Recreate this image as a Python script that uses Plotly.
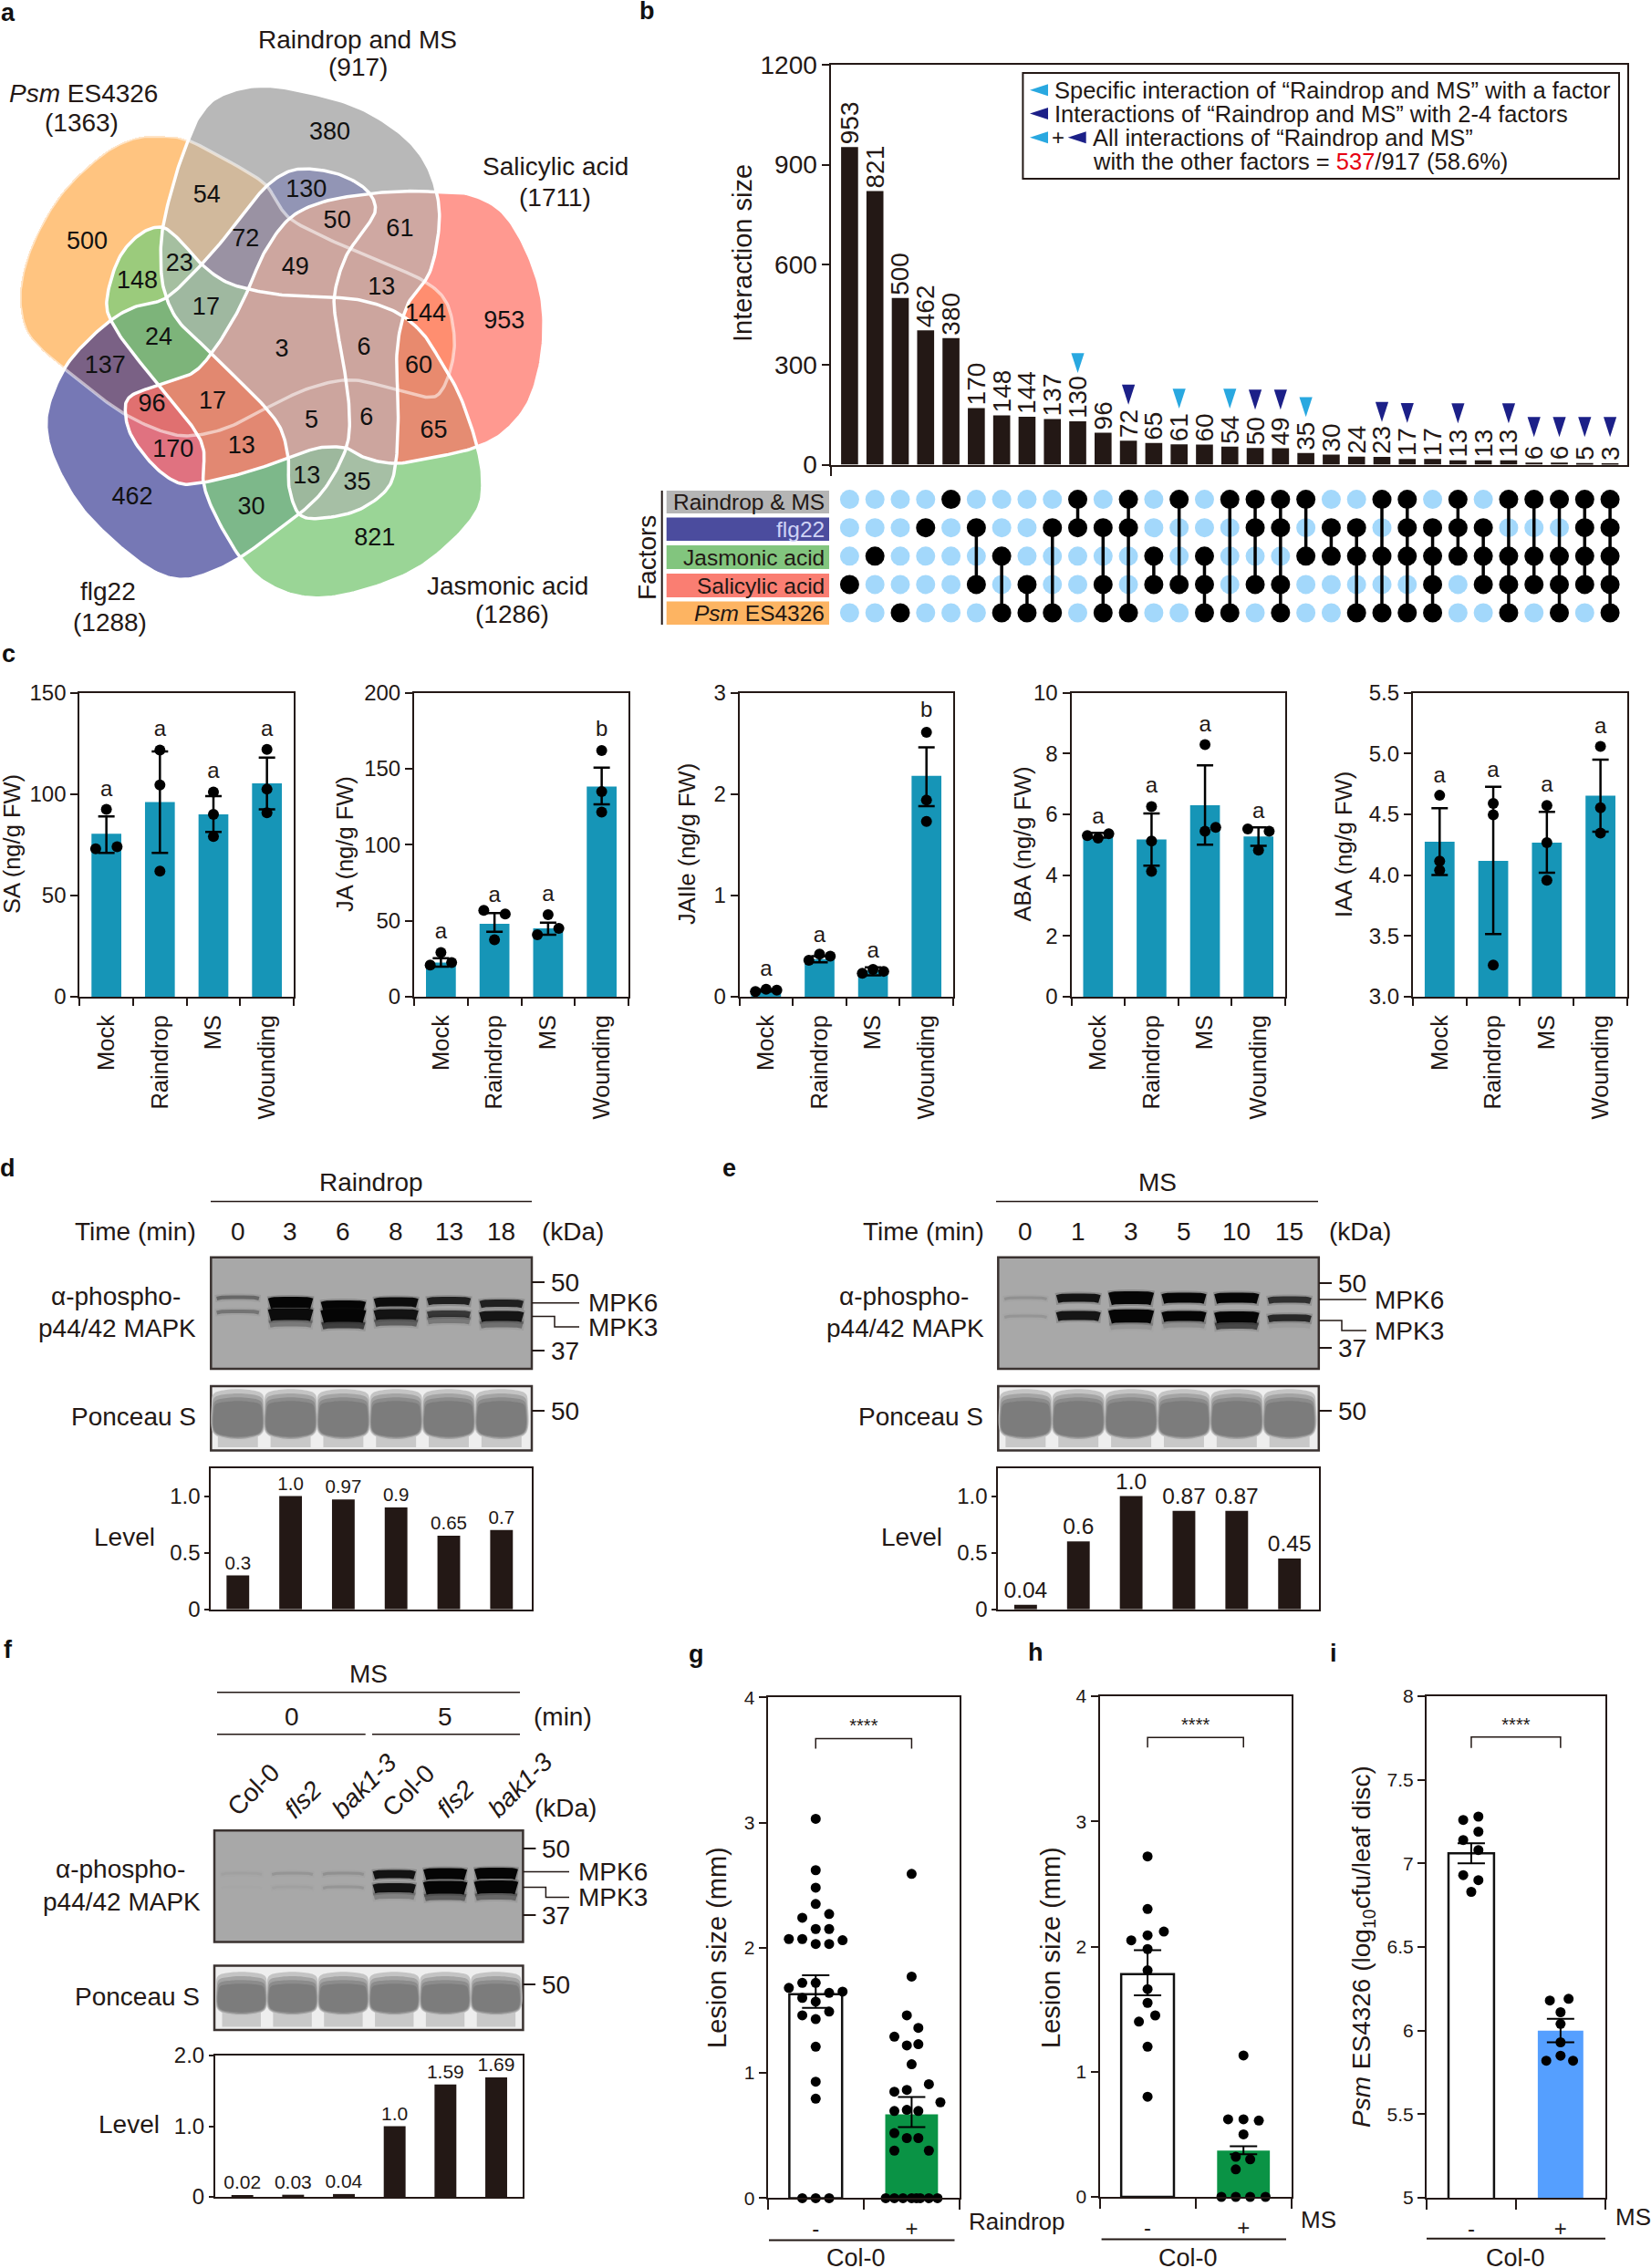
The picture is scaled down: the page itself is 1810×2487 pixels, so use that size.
import numpy as np
import plotly.graph_objects as go

FONT = "Liberation Sans"
INK = "#231815"

# ---------- panel a ----------
venn_orange = [(462,340),(400,330),(330,335),(250,375),(150,470),(80,590),(50,700),(60,790),(100,845),(158,893),(230,950),(310,1005),(400,1045),(470,1055),(560,1035),(660,985),(760,940),(860,920),(960,940),(1050,962),(1085,945),(1110,880),(1115,810),(1095,730),(1040,680),(950,640),(830,590),(720,535),(680,490),(650,445),(570,395)]
venn_gray = [(462,340),(490,280),(540,232),(640,208),(760,225),(880,260),(980,320),(1040,385),(1072,465),(1078,550),(1055,660),(1000,740),(975,850),(978,1000),(972,1120),(950,1185),(880,1235),(790,1255),(735,1245),(710,1180),(708,1110),(690,1040),(650,985),(580,915),(520,855),(440,780),(405,710),(395,640),(400,550),(430,430)]
venn_blue = [(158,893),(120,980),(115,1050),(140,1130),(200,1230),(290,1320),(380,1385),(450,1403),(520,1385),(590,1350),(660,1300),(735,1245),(800,1180),(850,1085),(858,1000),(845,890),(825,780),(822,710),(850,620),(900,550),(922,505),(900,460),(840,425),(770,410),(710,415),(650,455),(590,530),(500,635),(410,720),(340,740),(280,770),(210,830)]
venn_red = [(1072,465),(1150,470),(1230,510),(1290,600),(1330,720),(1332,850),(1300,970),(1240,1045),(1172,1082),(1080,1105),(975,1122),(900,1110),(850,1085),(780,1085),(708,1110),(600,1145),(500,1168),(440,1170),(380,1130),(325,1060),(308,1000),(320,960),(390,932),(470,905),(520,855),(575,770),(610,700),(650,610),(710,530),(790,490),(900,470),(1000,463)]
venn_green = [(590,1350),(650,1410),(740,1445),(850,1440),(1000,1390),(1100,1320),(1170,1240),(1185,1170),(1172,1082),(1130,960),(1085,880),(1040,810),(980,760),(900,730),(820,720),(700,715),(610,700),(550,680),(495,640),(440,580),(395,550),(340,570),(290,630),(262,730),(280,790),(330,860),(390,932),(470,1030),(500,1090),(500,1170),(530,1250)]
venn_cell_colors = {
    "": "#ffffff", "O": "#ffc480", "G": "#b8b8b8", "B": "#7678b5", "R": "#ff9990", "J": "#9ad596",
    "OG": "#d1b99c", "GB": "#9295b5", "OGB": "#9a92a3", "GR": "#cfa8a2", "OGR": "#cda69f", "GBR": "#cda69f", "OGBR": "#cda69f",
    "GRJ": "#cca59e", "OGRJ": "#cca59e", "GBRJ": "#cca59e", "OGBRJ": "#cca59e",
    "OJ": "#9bcb7c", "OGJ": "#a5bfa0", "OGBJ": "#9fb8a0", "OBJ": "#7db47a", "OB": "#7a6185",
    "OBR": "#e07070", "BR": "#e07280", "OBRJ": "#e28870", "BRJ": "#e28872",
    "GBJ": "#9db89d", "GJ": "#a6bfa5", "BJ": "#7db88a", "RJ": "#e58c72", "ORJ": "#e88a6e", "OR": "#ff8e70",
}
venn_counts = ["380","54","130","500","72","50","61","953","148","23","49","13","17","144","24","3","6","60","137","96","17","5","6","65","170","13","13","35","30","462","821"]
venn_count_x = [810,508,752,214,603,828,982,1238,337,441,725,937,506,1045,390,692,894,1028,258,373,522,765,900,1065,425,593,753,877,617,325,920]
venn_count_y = [322,476,462,588,582,538,558,780,683,642,650,698,748,762,820,848,845,888,888,982,975,1020,1015,1045,1092,1082,1155,1172,1230,1207,1306]

# ---------- panel b ----------
upset_labels = [953,821,500,462,380,170,148,144,137,130,96,72,65,61,60,54,50,49,35,30,24,23,17,17,13,13,13,6,6,5,3]
upset_heights = [953,821,500,403,380,170,148,144,137,130,96,72,65,61,60,54,50,49,35,30,24,23,17,17,13,13,13,6,6,5,3]
upset_members = [[3],[2],[4],[1],[0],[1,3],[2,4],[3,4],[1,4],[0,1],[1,3,4],[0,1,4],[2,3],[0,3],[2,3,4],[0,4],[0,1,3],[0,1,3,4],[0,2],[1,2],[1,2,4],[0,2,4],[0,1,2,4],[1,2,3,4],[0,1,2],[1,2,3],[0,2,3,4],[0,2,3],[0,2,3,4],[0,1,2,3],[0,1,2,3,4]]
flag_light_x = [9,13,15,18]
flag_light_y = [275,168,168,143]
flag_navy_x = [11,16,17,21,22,24,26,27,28,29,30]
flag_navy_y = [180,165,165,128,125,124,124,83,83,83,83]
factor_names = ["Raindrop & MS","flg22","Jasmonic acid","Salicylic acid","<i>Psm</i> ES4326"]
factor_colors = ["#b5b5b5","#4b4c9e","#82c57e","#fa7e72","#fdb462"]
factor_text = [INK,"#cfd3f5",INK,INK,INK]

# ---------- panel c ----------
treatments = ["Mock","Raindrop","MS","Wounding"]
hormone_titles = ["SA (ng/g FW)","JA (ng/g FW)","JAIle (ng/g FW)","ABA (ng/g FW)","IAA (ng/g FW)"]
hormone_mean = [[80.4,96,90,105.3],[22.5,48,45,138.3],[0.06,0.37,0.257,2.18],[5.25,5.17,6.3,5.27],[4.275,4.117,4.267,4.653]]
hormone_err_hi = [[88.9,121,99,118],[25.3,55,48.7,150.7],[0.07,0.40,0.29,2.46],[5.39,6.03,7.61,5.57],[4.55,4.726,4.52,4.95]]
hormone_err_lo = [[71,71,81.3,92.4],[19.7,42.7,40.7,126.5],[0.05,0.34,0.21,1.88],[5.23,4.31,5.0,4.96],[4.0,3.515,4.02,4.356]]
hormone_dots = [
    [[92.4,73,74],[121.7,104.5,62],[101,90,79],[122,102.4,90.8]],
    [[29,20.8,22.5],[56.8,54.4,37.5],[54,45,40.7],[162,135,121.5]],
    [[0.074,0.05,0.064],[0.40,0.36,0.42],[0.27,0.23,0.25],[2.61,1.94,1.73]],
    [[5.22,5.3,5.36],[6.25,5.12,4.12],[8.29,5.44,5.57],[4.82,5.52,5.44]],
    [[4.656,4.115,4.04],[4.59,4.495,3.26],[4.573,4.267,3.957],[5.058,4.554,4.345]],
]
hormone_dot_dx = [
    [[0,-.2,.2],[0,0,0],[0,0,0],[0,0,0]],
    [[0,-.2,.2],[-.2,.2,0],[0,.2,-.2],[0,0,0]],
    [[0,-.2,.2],[.2,-.2,0],[0,-.2,.2],[0,0,0]],
    [[0,-.2,.2],[0,0,0],[0,0,.2],[0,-.2,.2]],
    [[0,0,0],[0,0,0],[0,0,0],[0,0,0]],
]
hormone_letters = [["a","a","a","a"],["a","a","a","b"],["a","a","a","b"],["a","a","a","a"],["a","a","a","a"]]
hormone_letter_y = [[101.6,131.3,110.6,131.3],[41.8,65.8,66.5,175.4],[0.264,0.595,0.444,2.82],[5.87,6.89,8.9,6.06],[4.81,4.85,4.73,5.21]]
hormone_ymax = [150,200,3,10,5.5]
hormone_ymin = [0,0,0,0,3]
hormone_ticks = [[0,50,100,150],[0,50,100,150,200],[0,1,2,3],[0,2,4,6,8,10],[3,3.5,4,4.5,5,5.5]]
hormone_ticktext = [["0","50","100","150"],["0","50","100","150","200"],["0","1","2","3"],["0","2","4","6","8","10"],["3.0","3.5","4.0","4.5","5.0","5.5"]]

# ---------- panels d, e, f ----------
d_times = ["0","3","6","8","13","18"]
d_levels = [0.3,1.0,0.97,0.9,0.65,0.7]
d_level_text = ["0.3","1.0","0.97","0.9","0.65","0.7"]
d_mpk6 = [.35,1,1,.95,.8,.8]
d_mpk3 = [.28,.95,1,.9,.65,.88]
d_smear = [0,.25,.6,.4,.25,.3]
d_y6 = [1422.5,1428,1432,1427.5,1426,1429]
d_y3 = [1438,1441,1442.5,1441,1440.4,1443]
d_w6 = [4,12,12,10,8,8]
d_w3 = [4,13,14,11,7,11]
e_times = ["0","1","3","5","10","15"]
e_levels = [0.04,0.6,1.0,0.87,0.87,0.45]
e_level_text = ["0.04","0.6","1.0","0.87","0.87","0.45"]
e_mpk6 = [.12,.9,1,1,1,.7]
e_mpk3 = [.1,.88,1,1,1,.75]
e_smear = [0,0,.1,.12,.55,.05]
e_y6 = [1423,1423,1423,1423,1423,1425]
e_y3 = [1443,1442.5,1443,1443,1444,1445]
e_w6 = [3,9,14,11,11,7]
e_w3 = [3,10,14.5,11,12,7.5]
f_levels = [0.02,0.03,0.04,1.0,1.59,1.69]
f_level_text = ["0.02","0.03","0.04","1.0","1.59","1.69"]
f_mpk6 = [.03,.1,.12,.9,1,1]
f_mpk3 = [.01,.03,.1,.9,1,1]
f_smear = [0,0,0,.2,.4,.35]
f_y6 = [2054,2054,2054,2055,2054.5,2054]
f_y3 = [2069,2069,2069,2070,2069.5,2069]
f_w6 = [3,3,3,9,12,12]
f_w3 = [3,3,3,10,14,14]
genotypes = ["Col-0","<i>fls2</i>","<i>bak1-3</i>","Col-0","<i>fls2</i>","<i>bak1-3</i>"]

# ---------- panels g, h, i ----------
g_minus = [3.03,2.62,2.48,2.35,2.24,2.27,2.15,2.15,2.07,2.07,2.06,2.03,2.03,1.68,1.72,1.72,1.65,1.64,1.6,1.57,1.49,1.46,1.43,1.21,.93,.795,0,0,0]
g_minus_dx = [0,0,0,0,-.14,.14,0,.14,-.28,-.14,.28,0,.14,-.28,-.14,0,.28,.14,-.14,0,.14,-.14,0,0,0,0,-.14,0,.14]
g_plus = [2.59,1.77,1.46,1.36,1.29,1.23,1.22,1.07,.91,.85,.865,.766,.696,.705,.696,.52,.48,.48,.38,.38,0,0,0,0,0,0,0,0]
g_plus_dx = [0,0,-.05,.07,-.18,.07,-.05,0,.18,-.18,-.05,.3,-.18,-.05,.07,-.18,-.05,.07,-.18,.18,-.27,-.18,-.09,0,.09,.18,.27,.05]
h_minus = [2.72,2.30,2.12,2.09,2.05,1.98,1.81,1.66,1.55,1.45,1.40,1.2,.80]
h_minus_dx = [0,0,.17,0,-.17,0,0,0,0,.08,-.09,0,0]
h_plus = [1.13,.62,.62,.61,.50,.32,.30,.22,0,0,0,0]
h_plus_dx = [0,-.16,0,.16,0,-.08,.07,-.08,-.23,-.08,.07,.23]
i_minus = [7.26,7.28,7.19,7.14,7.08,6.93,6.90,6.83]
i_minus_dx = [-.09,.08,.08,-.09,.08,-.09,.08,0]
i_plus = [6.18,6.19,6.11,6.04,5.93,5.82,5.85,5.82]
i_plus_dx = [-.12,.09,0,0,0,-.16,0,.14]
lesion_means = [[1.63,.67],[1.78,.37],[7.06,6.0]]
lesion_hi = [[1.78,.807],[1.97,.405],[7.12,6.07]]
lesion_lo = [[1.52,.568],[1.61,.34],[7.0,5.93]]

fig = go.Figure()
annotations, shapes, layout_axes = [], [], {}
axis_n = [0]


def new_axes(left, right, top, bottom, xcfg=None, ycfg=None):
    axis_n[0] += 1
    n = axis_n[0]
    s = "" if n == 1 else str(n)
    x = dict(domain=[left / 1810, right / 1810], anchor=f"y{s}", visible=False, showgrid=False, zeroline=False, automargin=False)
    y = dict(domain=[1 - bottom / 2487, 1 - top / 2487], anchor=f"x{s}", visible=False, showgrid=False, zeroline=False, automargin=False)
    x.update(xcfg or {})
    y.update(ycfg or {})
    layout_axes[f"xaxis{s}"] = x
    layout_axes[f"yaxis{s}"] = y
    return f"x{s}", f"y{s}"


OX, OY = new_axes(0, 1810, 0, 2487, dict(range=[0, 1810]), dict(range=[2487, 0]))


def T(x, y, text, size=28, xa="center", ya="middle", angle=0, color=INK, bold=False):
    if bold:
        text = f"<b>{text}</b>"
    annotations.append(dict(x=x, y=y, xref=OX, yref=OY, text=text, showarrow=False, xanchor=xa, yanchor=ya,
                            textangle=angle, align="center", font=dict(family=FONT, size=size, color=color)))


def R(x0, y0, x1, y1, fill="rgba(0,0,0,0)", line=INK, lw=2):
    shapes.append(dict(type="rect", xref=OX, yref=OY, x0=x0, y0=y0, x1=x1, y1=y1, fillcolor=fill,
                       line=dict(color=line, width=lw), layer="below"))


def L(pts, lw=2, color=INK):
    path = "M" + " L".join(f"{a},{b}" for a, b in pts)
    shapes.append(dict(type="path", xref=OX, yref=OY, path=path, line=dict(color=color, width=lw), layer="above"))


def axis_style(**kw):
    d = dict(visible=True, showline=True, linecolor=INK, linewidth=2, mirror=True, showgrid=False, zeroline=False,
             tickfont=dict(family=FONT, size=24, color=INK), tickcolor=INK, tickwidth=2, ticks="outside", ticklen=8)
    d.update(kw)
    return d


for letter, x, y in [("a",9,14),("b",709,12),("c",9,717),("d",8,1281),("e",799,1281),("f",9,1809),("g",763,1814),("h",1135,1812),("i",1462,1813)]:
    T(x, y, letter, size=27, bold=True, color="#111")


# ---- a
def smooth_closed(points, per=14):
    p = np.array(points, float)
    n = len(p)
    out = []
    for i in range(n):
        p0, p1, p2, p3 = p[(i - 1) % n], p[i], p[(i + 1) % n], p[(i + 2) % n]
        for t in np.linspace(0, 1, per, endpoint=False):
            out.append(0.5 * (2 * p1 + (p2 - p0) * t + (2 * p0 - 5 * p1 + 4 * p2 - p3) * t ** 2 + (3 * p1 - p0 - 3 * p2 + p3) * t ** 3))
    out.append(out[0])
    return np.array(out)


vx, vy = new_axes(0, 700, 0, 710, dict(range=[0, 1568]), dict(range=[1568, 0]))
GX = (np.arange(700) + .5) * 1568 / 700
GY = (np.arange(710) + .5) * 1568 / 710


def inside(outline):
    mask = np.zeros((len(GY), len(GX)), bool)
    xs, ys = outline[:, 0], outline[:, 1]
    for j, yy in enumerate(GY):
        crossing = np.where((ys[:-1] <= yy) != (ys[1:] <= yy))[0]
        if len(crossing) == 0:
            continue
        cx = np.sort(xs[crossing] + (yy - ys[crossing]) / (ys[crossing + 1] - ys[crossing]) * (xs[crossing + 1] - xs[crossing]))
        for a, b in zip(cx[::2], cx[1::2]):
            mask[j, (GX >= a) & (GX < b)] = True
    return mask


outlines = {"O": smooth_closed(venn_orange), "G": smooth_closed(venn_gray), "B": smooth_closed(venn_blue), "R": smooth_closed(venn_red), "J": smooth_closed(venn_green)}
keys = list(venn_cell_colors)
code_by_key = {k: i for i, k in enumerate(keys)}
masks = {k: inside(v) for k, v in outlines.items()}
order = "OGBRJ"
cells = np.zeros((len(GY), len(GX)), np.uint8)
for bits in range(32):
    name = "".join(c for b, c in enumerate(order) if bits >> b & 1)
    sel = np.ones_like(cells, bool)
    for b, c in enumerate(order):
        sel &= masks[c] if bits >> b & 1 else ~masks[c]
    if sel.any():
        cells[sel] = code_by_key.get(name, code_by_key["OGBRJ"])
N = len(keys)
scale = []
for i, k in enumerate(keys):
    scale += [[i / N, venn_cell_colors[k]], [(i + 1) / N, venn_cell_colors[k]]]
fig.add_trace(go.Heatmap(x=GX, y=GY, z=(cells.astype(np.uint8) * 2 + 1), zmin=0, zmax=2 * N, colorscale=scale, showscale=False, hoverinfo="skip", xaxis=vx, yaxis=vy))
for key, col, w in [("O", "rgba(255,255,255,0.55)", 3.5), ("G", "white", 3.5), ("B", "white", 3.5), ("R", "white", 3.5), ("J", "white", 3.5)]:
    fig.add_trace(go.Scatter(x=outlines[key][:, 0], y=outlines[key][:, 1], mode="lines", line=dict(color=col, width=w), xaxis=vx, yaxis=vy, hoverinfo="skip"))
fig.add_trace(go.Scatter(x=venn_count_x, y=venn_count_y, text=venn_counts, mode="text", textposition="middle center",
                         textfont=dict(family=FONT, size=27, color="#111"), xaxis=vx, yaxis=vy))
for x, y, t in [(392,43,"Raindrop and MS"),(392,73,"(917)"),(91,102,"<i>Psm</i> ES4326"),(89,134,"(1363)"),(609,182,"Salicylic acid"),(608,216,"(1711)"),
                (118,648,"flg22"),(120,682,"(1288)"),(556,642,"Jasmonic acid"),(561,673,"(1286)")]:
    T(x, y, t, size=28)

# ---- b
brange = [-0.72, 30.68]
bx, by = new_axes(911.4, 1784, 71, 509.5,
                  axis_style(range=brange, tickmode="array", tickvals=[], ticks="",
                             minor=dict(tickmode="array", tickvals=[-0.72], ticks="outside", ticklen=10, tickcolor=INK, tickwidth=2)),
                  axis_style(range=[0, 1200], tickmode="array", tickvals=[0,300,600,900,1200], tickfont=dict(family=FONT, size=28, color=INK)))
fig.add_trace(go.Bar(x=list(range(31)), y=upset_heights, width=0.67, marker=dict(color=INK, line=dict(width=0)),
                     text=[str(v) for v in upset_labels], textposition="outside", textangle=-90, constraintext="none", cliponaxis=False,
                     textfont=dict(family=FONT, size=28, color=INK), xaxis=bx, yaxis=by))
fig.add_trace(go.Scatter(x=flag_light_x, y=flag_light_y, mode="markers", marker=dict(symbol="arrow", angle=180, size=23, color="#29a8e0", line=dict(width=0)), xaxis=bx, yaxis=by))
fig.add_trace(go.Scatter(x=flag_navy_x, y=flag_navy_y, mode="markers", marker=dict(symbol="arrow", angle=180, size=23, color="#1c2088", line=dict(width=0)), xaxis=bx, yaxis=by))
T(814, 278, "Interaction size", size=29, angle=-90)

mx, my = new_axes(911.4, 1784, 532, 687.6, dict(range=brange), dict(range=[4.5, -0.5]))
fig.add_trace(go.Scatter(x=[i for i in range(31) for r in range(5) if r not in upset_members[i]],
                         y=[r for i in range(31) for r in range(5) if r not in upset_members[i]], mode="markers",
                         marker=dict(size=21, color="#a3d8fb", line=dict(width=0)), xaxis=mx, yaxis=my))
for i, m in enumerate(upset_members):
    if len(m) > 1:
        fig.add_trace(go.Scatter(x=[i, i], y=[min(m), max(m)], mode="lines", line=dict(color="#000", width=3.5), xaxis=mx, yaxis=my))
fig.add_trace(go.Scatter(x=[i for i in range(31) for r in upset_members[i]], y=[r for i in range(31) for r in upset_members[i]], mode="markers",
                         marker=dict(size=21, color="#000", line=dict(width=0)), xaxis=mx, yaxis=my))
rows = [(538,563),(567.5,593),(598,624),(629,655),(659.4,685)]
for (a, b), name, col, tc in zip(rows, factor_names, factor_colors, factor_text):
    R(730.7, a, 909, b, fill=col, line=col, lw=0)
    T(906, (a + b) / 2, name, size=24.5, xa="right", color=tc)
L([(725.7, 538), (725.7, 685)], lw=2)
T(709, 612, "Factors", size=28, angle=-90)
R(1121.4, 80, 1775, 196, fill="white")
fig.add_trace(go.Scatter(x=[1129,1129,1129], y=[98.7,124.5,150.8], mode="markers",
                         marker=dict(symbol="arrow", angle=-90, size=21, color=["#29a8e0","#1c2088","#29a8e0"], line=dict(width=0)), xaxis=OX, yaxis=OY))
fig.add_trace(go.Scatter(x=[1170.7], y=[150.8], mode="markers", marker=dict(symbol="arrow", angle=-90, size=21, color="#1c2088", line=dict(width=0)), xaxis=OX, yaxis=OY))
T(1154, 98.7, "Specific interaction of “Raindrop and MS” with a factor", size=25.5, xa="left")
T(1154, 124.5, "Interactions of “Raindrop and MS” with 2-4 factors", size=25.5, xa="left")
T(1160, 150.8, "+", size=24, color=INK)
T(1196, 150.8, "All interactions of “Raindrop and MS”", size=25.5, xa="left")
T(1196, 176.6, 'with the other factors = <span style="color:#e60012">537</span>/917 (58.6%)', size=25.5, xa="left")

# ---- c
c_boxes = [(87.3,322),(454,689),(810.6,1045),(1174.5,1409),(1548.9,1784)]
c_title_x = [13,378,753,1120.5,1473]
for k, (left, right) in enumerate(c_boxes):
    ax, ay = new_axes(left, right, 759.6, 1092.9,
                      axis_style(range=[-0.5, 3.5], tickmode="array", tickvals=[0,1,2,3], ticktext=treatments, tickangle=-90,
                                 tickfont=dict(family=FONT, size=25.5, color=INK), tickcolor="rgba(0,0,0,0)", ticklen=8,
                                 minor=dict(tickmode="array", tickvals=[-.5,.5,1.5,2.5,3.5], ticks="outside", ticklen=8, tickcolor=INK, tickwidth=2)),
                      axis_style(range=[hormone_ymin[k], hormone_ymax[k]], tickmode="array", tickvals=hormone_ticks[k], ticktext=hormone_ticktext[k]))
    fig.add_trace(go.Bar(x=[0,1,2,3], y=hormone_mean[k], width=0.557, marker=dict(color="#1695b7", line=dict(width=0)), xaxis=ax, yaxis=ay))
    fig.add_trace(go.Scatter(x=[0,1,2,3], y=hormone_mean[k], mode="markers", marker=dict(size=1, color="rgba(0,0,0,0)"),
                             error_y=dict(type="data", symmetric=False,
                                          array=[h - m for h, m in zip(hormone_err_hi[k], hormone_mean[k])],
                                          arrayminus=[m - l for l, m in zip(hormone_err_lo[k], hormone_mean[k])],
                                          color="#000", thickness=2.5, width=9), xaxis=ax, yaxis=ay))
    fig.add_trace(go.Scatter(x=[i + d for i in range(4) for d in hormone_dot_dx[k][i]], y=[v for g in hormone_dots[k] for v in g], mode="markers",
                             marker=dict(size=12, color="#000", line=dict(width=0)), xaxis=ax, yaxis=ay))
    fig.add_trace(go.Scatter(x=[0,1,2,3], y=hormone_letter_y[k], text=hormone_letters[k], mode="text", textposition="middle center",
                             textfont=dict(family=FONT, size=24, color=INK), xaxis=ax, yaxis=ay))
    T(c_title_x[k], 926, hormone_titles[k], size=25.5, angle=-90)


def blot(left, right, top, bottom, xr, series, smear, smear_gap):
    R(left, top, right, bottom, fill="#a8a8a8", line="#3a3230", lw=2.5)
    ax, ay = new_axes(left, right, top, bottom, dict(range=xr), dict(range=[bottom, top]))
    y3 = series[1][1]
    w3 = series[1][2]
    all_bands = [(smear, [a + smear_gap + b * .5 for a, b in zip(y3, w3)], [8] * 6)] + series
    for vals, ys_, ws_ in all_bands:
        for i, v in enumerate(vals):
            if v <= 0:
                continue
            y, w = ys_[i], ws_[i]
            xs = [i - .43, i - .22, i, i + .22, i + .43]
            ys = [y + 1.5, y + .3, y, y + .3, y + 1.5]
            fig.add_trace(go.Scatter(x=xs, y=ys, mode="lines", line=dict(color=f"rgba(30,30,30,{.22 * v:.2f})", width=w + 4, shape="spline"), xaxis=ax, yaxis=ay))
            fig.add_trace(go.Scatter(x=[i - .4, i - .3, i, i + .3, i + .4], y=ys, mode="lines",
                                     line=dict(color=f"rgba(5,5,5,{v:.2f})", width=w, shape="spline"), xaxis=ax, yaxis=ay))


PON_DX = [-.5,-.46,-.22,.22,.46,.5,.47,.2,-.2,-.47,-.5]
PON_TOP = [.3,.08,.0,.0,.08,.3,.85,.98,.98,.85,.3]
SMEAR_DX = [-.38,-.38,.38,.38,-.38]
SMEAR_Y = [.7,.97,.97,.7,.7]


def ponceau(left, right, top, bottom, xr, band_top, band_bottom):
    R(left, top, right, bottom, fill="#eeeeee", line="#3a3230", lw=2.5)
    ax, ay = new_axes(left, right, top + 1.5, bottom - 1.5, dict(range=xr), dict(range=[1, 0]))
    t = (band_top - top) / (bottom - top)
    b = (band_bottom - top) / (bottom - top)
    for i in range(6):
        fig.add_trace(go.Scatter(x=[i + d for d in SMEAR_DX], y=SMEAR_Y, mode="lines", fill="toself", fillcolor="#c8c8c8", line=dict(width=0), xaxis=ax, yaxis=ay))
    for grow, col in [(.16, "#c4c4c4"), (.09, "#a4a4a4"), (.03, "#8c8c8c"), (-.03, "#7c7c7c")]:
        for i in range(6):
            fig.add_trace(go.Scatter(x=[i + d * (.93 + grow * .45) for d in PON_DX], y=[t - grow + (b - t + grow * 1.3) * v for v in PON_TOP], mode="lines", fill="toself", fillcolor=col,
                                     line=dict(width=0, shape="spline"), xaxis=ax, yaxis=ay))


def level(left, right, top, bottom, xr, vals, txt, ymax, ticks, ticktext, size):
    ax, ay = new_axes(left, right, top, bottom,
                      axis_style(range=xr, tickmode="array", tickvals=[], ticks=""),
                      axis_style(range=[0, ymax], tickmode="array", tickvals=ticks, ticktext=ticktext, ticklen=5))
    fig.add_trace(go.Bar(x=list(range(6)), y=vals, width=0.43, marker=dict(color=INK, line=dict(width=0)), text=txt, textposition="outside",
                         constraintext="none", cliponaxis=False, textfont=dict(family=FONT, size=size, color=INK), xaxis=ax, yaxis=ay))


def marker_lines(x_edge, x_mid, x_end, y50, y37, y6, y3a, y3b, x_text, x_kda):
    L([(x_edge, y50), (x_edge + 14, y50)])
    T(x_kda, y50, "50", xa="left")
    L([(x_edge, y37), (x_edge + 14, y37)])
    T(x_kda, y37, "37", xa="left")
    L([(x_edge, y6), (x_end, y6)], lw=1.5)
    L([(x_edge, y3a), (x_mid, y3a), (x_mid, y3b), (x_end, y3b)], lw=1.5)
    T(x_text, y6, "MPK6", xa="left")
    T(x_text, y3b, "MPK3", xa="left")


# ---- d
dr = [-0.51, 5.574]
blot(231.3, 583, 1378.8, 1501, dr, [(d_mpk6, d_y6, d_w6), (d_mpk3, d_y3, d_w3)], d_smear, 3)
ponceau(231.3, 583, 1520, 1590.6, dr, 1534, 1577)
level(231.3, 583, 1609.5, 1764.8, dr, d_levels, d_level_text, 1.25, [0,.5,1], ["0","0.5","1.0"], 20.5)
T(407, 1296, "Raindrop"); L([(231, 1317.5), (583, 1317.5)], lw=1.5)
T(217, 1350, "Time (min)", xa="right")
for x, t in zip([260.7,318.4,376,433.8,492,549.8], d_times):
    T(x, 1350, t)
T(628, 1350, "(kDa)")
T(127, 1421, "α-phospho-"); T(217, 1456, "p44/42 MAPK", xa="right")
marker_lines(583, 608, 635, 1406, 1481, 1428.7, 1443.5, 1455, 643, 602)
T(217, 1553, "Ponceau S", xa="right")
L([(583, 1547), (597, 1547)]); T(602, 1547, "50", xa="left")
T(136, 1685, "Level")

# ---- e
er = [-0.52, 5.555]
blot(1094.3, 1445.8, 1378.8, 1501, er, [(e_mpk6, e_y6, e_w6), (e_mpk3, e_y3, e_w3)], e_smear, 3)
ponceau(1094.3, 1445.8, 1520, 1590.6, er, 1534, 1577)
level(1094.3, 1445.8, 1609.5, 1764.8, er, e_levels, e_level_text, 1.25, [0,.5,1], ["0","0.5","1.0"], 24.5)
T(1269, 1296, "MS"); L([(1092, 1317.5), (1445, 1317.5)], lw=1.5)
T(1081, 1350, "Time (min)", xa="right")
for x, t in zip([1124.4,1182,1239.7,1297.9,1355.5,1413.7], e_times):
    T(x, 1350, t)
T(1491, 1350, "(kDa)")
T(991, 1421, "α-phospho-"); T(1081, 1456, "p44/42 MAPK", xa="right")
marker_lines(1446, 1471, 1498, 1407, 1478, 1425, 1448, 1459, 1504.5, 1465)
T(1080, 1553, "Ponceau S", xa="right")
L([(1446, 1547), (1460, 1547)]); T(1465, 1547, "50", xa="left")
T(999, 1685, "Level")

# ---- f
fr = [-0.533, 5.528]
blot(235, 573.4, 2007.3, 2129.5, fr, [(f_mpk6, f_y6, f_w6), (f_mpk3, f_y3, f_w3)], f_smear, 3)
ponceau(235, 573.4, 2155.4, 2226, fr, 2173, 2208)
level(236, 573.4, 2254, 2409, fr, f_levels, f_level_text, 2, [0,1,2], ["0","1.0","2.0"], 21)
T(403.5, 1835, "MS"); L([(238, 1855.7), (570, 1855.7)], lw=1.5)
T(320, 1882, "0"); T(488.4, 1882, "5"); T(617, 1882, "(min)")
L([(238, 1901.7), (400.7, 1901.7)], lw=1.5); L([(408, 1901.7), (570, 1901.7)], lw=1.5)
for x, y, t in zip([277.5,331.8,398.8,447.4,499.3,570], [1962,1973,1958,1963,1972,1957], genotypes):
    T(x, y, t, angle=-45)
T(620, 1982, "(kDa)")
T(132, 2049, "α-phospho-"); T(222, 2085, "p44/42 MAPK", xa="right")
marker_lines(573.4, 598.4, 624, 2027, 2100, 2052.4, 2069.5, 2080.5, 632, 592)
T(221, 2189, "Ponceau S", xa="right")
L([(573.4, 2176), (587, 2176)]); T(592, 2176, "50", xa="left")
T(141, 2329, "Level")

# ---- g h i
lesion_panels = [
    dict(box=(841.7,1052,1861.3,2410.4), yr=[0,4], yt=[0,1,2,3,4], ytt=["0","1","2","3","4"], minus=g_minus, mdx=g_minus_dx, plus=g_plus, pdx=g_plus_dx, color="#0a9345", w=.55, k=0, by=[3.59,3.67], sy=3.76),
    dict(box=(1205.5,1415.8,1860,2409), yr=[0,4], yt=[0,1,2,3,4], ytt=["0","1","2","3","4"], minus=h_minus, mdx=h_minus_dx, plus=h_plus, pdx=h_plus_dx, color="#0a9345", w=.55, k=1, by=[3.59,3.67], sy=3.76),
    dict(box=(1564,1759.8,1860,2410), yr=[5,8], yt=[5,5.5,6,6.5,7,7.5,8], ytt=["5","5.5","6","6.5","7","7.5","8"], minus=i_minus, mdx=i_minus_dx, plus=i_plus, pdx=i_plus_dx, color="#559fff", w=.51, k=2, by=[7.69,7.756], sy=7.82),
]
for p in lesion_panels:
    l, r, t, b = p["box"]
    k = p["k"]
    ax, ay = new_axes(l, r, t, b,
                      axis_style(range=[-.5, 1.5], tickmode="array", tickvals=[0, 1], ticktext=["-", "+"], tickcolor="rgba(0,0,0,0)", ticklen=11,
                                 minor=dict(tickmode="array", tickvals=[-.5,.5,1.5], ticks="outside", ticklen=11, tickcolor=INK, tickwidth=2)),
                      axis_style(range=p["yr"], tickmode="array", tickvals=p["yt"], ticktext=p["ytt"], tickfont=dict(family=FONT, size=21, color=INK)))
    fig.add_trace(go.Bar(x=[0, 1], y=lesion_means[k], width=p["w"], marker=dict(color=["white", p["color"]], line=dict(color=["#111", p["color"]], width=[2.5, 0])), xaxis=ax, yaxis=ay))
    fig.add_trace(go.Scatter(x=[d for d in p["mdx"]] + [1 + d for d in p["pdx"]], y=p["minus"] + p["plus"], mode="markers", cliponaxis=False,
                             marker=dict(size=11, color="#000", line=dict(width=0)), xaxis=ax, yaxis=ay))
    fig.add_trace(go.Scatter(x=[0, 1], y=lesion_means[k], mode="markers", marker=dict(size=1, color="rgba(0,0,0,0)"),
                             error_y=dict(type="data", symmetric=False,
                                          array=[h - m for h, m in zip(lesion_hi[k], lesion_means[k])],
                                          arrayminus=[m - o for o, m in zip(lesion_lo[k], lesion_means[k])],
                                          color="#000", thickness=2, width=15), xaxis=ax, yaxis=ay))
    fig.add_trace(go.Scatter(x=[0, 0, 1, 1], y=[p["by"][0], p["by"][1], p["by"][1], p["by"][0]], mode="lines", line=dict(color=INK, width=1.5), xaxis=ax, yaxis=ay))
    fig.add_trace(go.Scatter(x=[.5], y=[p["sy"]], text=["****"], mode="text", textposition="middle center", textfont=dict(family=FONT, size=20, color=INK), xaxis=ax, yaxis=ay))

T(786, 2136, "Lesion size (mm)", size=29, angle=-90)
T(1152, 2136, "Lesion size (mm)", size=29, angle=-90)
T(1494, 2135, "<i>Psm</i> ES4326 (log<sub>10</sub>cfu/leaf disc)", size=28, angle=-90)
T(1059.5, 2436, "Raindrop", size=26, xa="left")
T(1424, 2434, "MS", size=26, xa="left")
T(1769, 2431, "MS", size=26, xa="left")
L([(843, 2456.4), (1046.5, 2456.4)]); L([(1207.6, 2455.6), (1410, 2455.6)]); L([(1564, 2454.7), (1760, 2454.7)])
T(938, 2476, "Col-0", size=27); T(1302, 2476, "Col-0", size=27); T(1661.5, 2476, "Col-0", size=27)

fig.update_layout(template="none", width=1810, height=2487, autosize=False, margin=dict(l=0, r=0, t=0, b=0, pad=0), showlegend=False,
                  paper_bgcolor="white", plot_bgcolor="rgba(0,0,0,0)", annotations=annotations, shapes=shapes, hovermode=False,
                  barmode="overlay", font=dict(family=FONT, color=INK), **layout_axes)
fig.write_html("out.html", post_script="document.body.style.margin='0';", config=dict(displayModeBar=False))
